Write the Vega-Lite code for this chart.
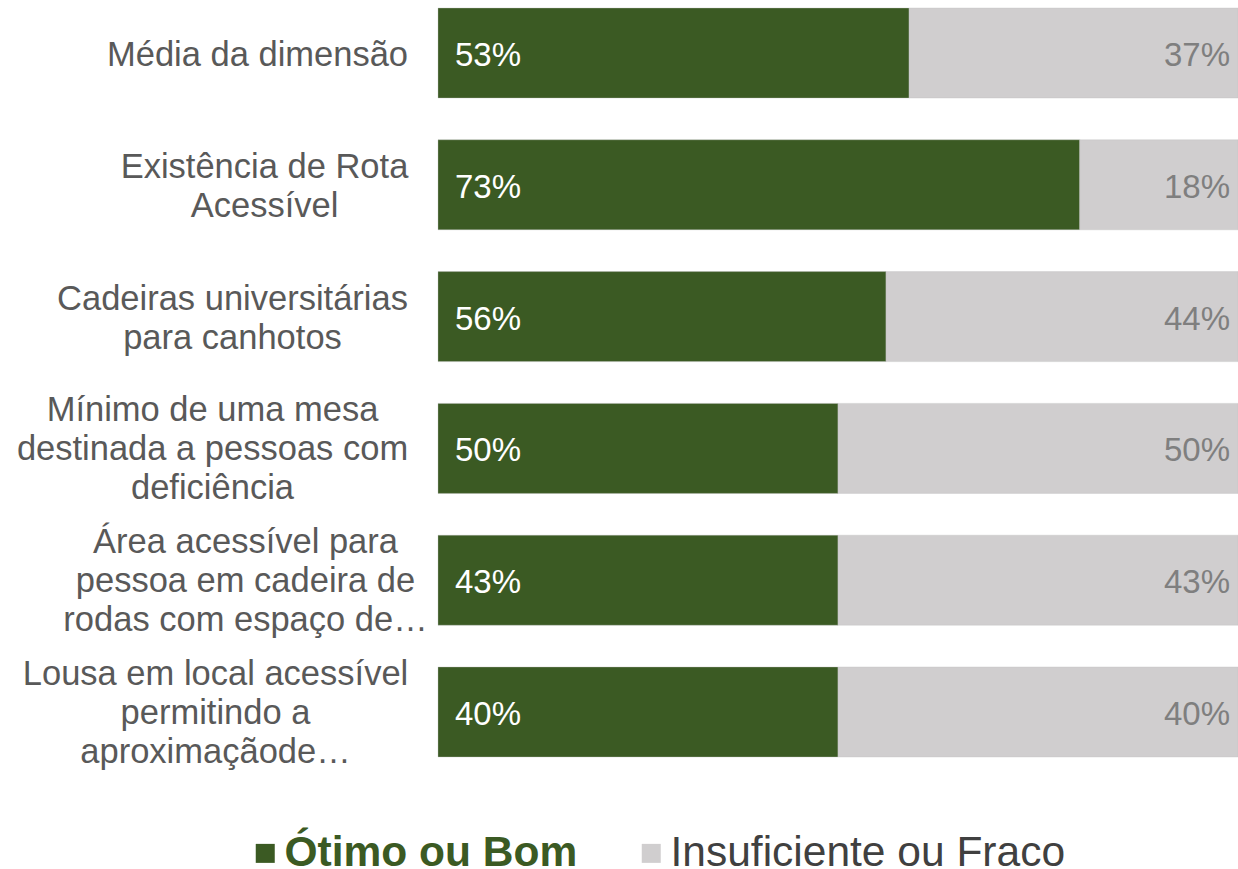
{
  "$schema": "https://vega.github.io/schema/vega-lite/v6.json",
  "autosize": "none",
  "width": 800,
  "height": 749,
  "padding": {"top": 8, "left": 438, "right": 0, "bottom": 112},
  "background": "white",
  "config": {
    "view": {"stroke": null},
    "font": "Liberation Sans"
  },
  "data": {
    "values": [
      {"categoria": "Média da dimensão", "serie": "Ótimo ou Bom", "valor": 0.53},
      {"categoria": "Média da dimensão", "serie": "Insuficiente ou Fraco", "valor": 0.37},
      {"categoria": "Existência de Rota\nAcessível", "serie": "Ótimo ou Bom", "valor": 0.73},
      {"categoria": "Existência de Rota\nAcessível", "serie": "Insuficiente ou Fraco", "valor": 0.18},
      {"categoria": "Cadeiras universitárias\npara canhotos", "serie": "Ótimo ou Bom", "valor": 0.56},
      {"categoria": "Cadeiras universitárias\npara canhotos", "serie": "Insuficiente ou Fraco", "valor": 0.44},
      {"categoria": "Mínimo de uma mesa\ndestinada a pessoas com\ndeficiência", "serie": "Ótimo ou Bom", "valor": 0.50},
      {"categoria": "Mínimo de uma mesa\ndestinada a pessoas com\ndeficiência", "serie": "Insuficiente ou Fraco", "valor": 0.50},
      {"categoria": "Área acessível para\npessoa em cadeira de\nrodas com espaço de…", "serie": "Ótimo ou Bom", "valor": 0.43},
      {"categoria": "Área acessível para\npessoa em cadeira de\nrodas com espaço de…", "serie": "Insuficiente ou Fraco", "valor": 0.43},
      {"categoria": "Lousa em local acessível\npermitindo a\naproximaçãode…", "serie": "Ótimo ou Bom", "valor": 0.40},
      {"categoria": "Lousa em local acessível\npermitindo a\naproximaçãode…", "serie": "Insuficiente ou Fraco", "valor": 0.40}
    ]
  },
  "encoding": {
    "y": {
      "field": "categoria",
      "type": "nominal",
      "sort": null,
      "scale": {"paddingInner": 0.317, "paddingOuter": 0},
      "axis": {
        "title": null,
        "domain": false,
        "ticks": false,
        "labelLimit": 0,
        "labelFontSize": 34.5,
        "labelColor": "#595959",
        "labelAlign": "center",
        "labelBaseline": "middle",
        "labelLineHeight": 39,
        "labelExpr": "split(datum.label, '\\n')",
        "labelOffset": {
          "condition": [
            {"test": "length(split(datum.value, '\\n')) === 2", "value": -17},
            {"test": "length(split(datum.value, '\\n')) === 3", "value": -37}
          ],
          "value": 3
        },
        "labelPadding": {
          "condition": [
            {"test": "indexof(datum.value, 'Média') === 0", "value": 181},
            {"test": "indexof(datum.value, 'Existência') === 0", "value": 174},
            {"test": "indexof(datum.value, 'Cadeiras') === 0", "value": 206},
            {"test": "indexof(datum.value, 'Mínimo') === 0", "value": 226},
            {"test": "indexof(datum.value, 'Área') === 0", "value": 193},
            {"test": "indexof(datum.value, 'Lousa') === 0", "value": 223}
          ],
          "value": 200
        }
      }
    }
  },
  "layer": [
    {
      "mark": {"type": "bar", "stroke": "#bfbfbf", "strokeWidth": 0.6, "strokeOpacity": 0.6},
      "encoding": {
        "x": {
          "field": "valor",
          "type": "quantitative",
          "stack": "normalize",
          "scale": {"domain": [0, 1], "nice": false},
          "axis": null
        },
        "color": {
          "field": "serie",
          "type": "nominal",
          "sort": ["Ótimo ou Bom", "Insuficiente ou Fraco"],
          "scale": {"domain": ["Ótimo ou Bom", "Insuficiente ou Fraco"], "range": ["#3b5a23", "#d0cecf"]},
          "legend": {
            "title": null,
            "orient": "none",
            "direction": "horizontal",
            "legendX": -194,
            "legendY": 824,
            "symbolType": "square",
            "symbolSize": 361,
            "symbolStrokeWidth": 0,
            "labelFontSize": 42.5,
            "labelOffset": -2,
            "columnPadding": 52,
            "labelLimit": 0,
            "labelBaseline": "middle",
            "labelColor": {"expr": "datum.label === 'Ótimo ou Bom' ? '#3b5a23' : '#404040'"},
            "labelFontWeight": {"expr": "datum.label === 'Ótimo ou Bom' ? 'bold' : 'normal'"}
          }
        },
        "order": {"field": "serie", "sort": "descending"}
      }
    },
    {
      "transform": [{"filter": "datum.serie === 'Ótimo ou Bom'"}],
      "mark": {"type": "text", "align": "left", "baseline": "middle", "dx": 17, "dy": 3, "fontSize": 33, "color": "white"},
      "encoding": {
        "x": {"datum": 0, "type": "quantitative"},
        "text": {"field": "valor", "type": "quantitative", "format": ".0%"}
      }
    },
    {
      "transform": [{"filter": "datum.serie === 'Insuficiente ou Fraco'"}],
      "mark": {"type": "text", "align": "right", "baseline": "middle", "dx": -8, "dy": 3, "fontSize": 33, "color": "#7f7f7f"},
      "encoding": {
        "x": {"datum": 1, "type": "quantitative"},
        "text": {"field": "valor", "type": "quantitative", "format": ".0%"}
      }
    }
  ]
}
